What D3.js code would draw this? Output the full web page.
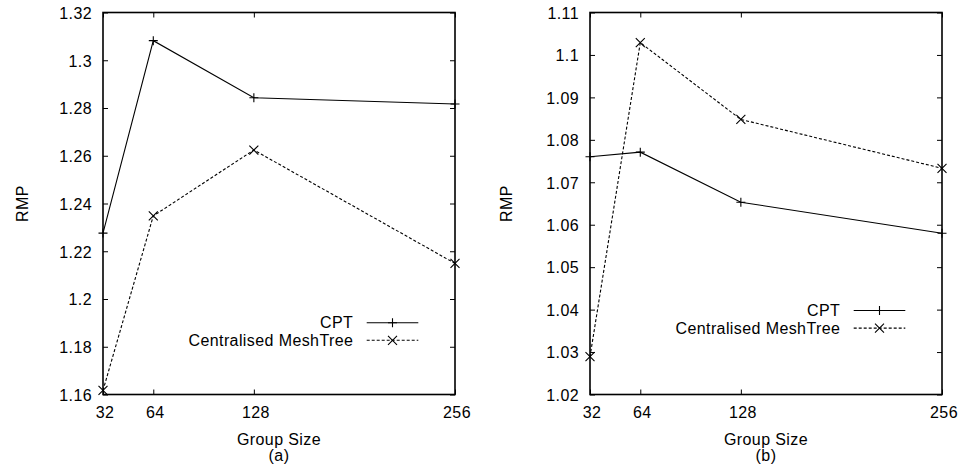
<!DOCTYPE html>
<html>
<head>
<meta charset="utf-8">
<script src="https://cdn.jsdelivr.net/npm/d3@7"></script>
<style>
  html, body { margin: 0; padding: 0; background: #fff; }
  svg { display: block; }
  text { font-family: "Liberation Sans", Arial, Helvetica, sans-serif; font-size: 16px; letter-spacing: 0.4px; fill: #000; }
</style>
</head>
<body>
<svg id="chart" width="960" height="465"></svg>
<script>
// ---- data ----
const groupSizes = [32, 64, 128, 256];
const xTickValues = [32, 64, 128, 256];
const seriesNames = ["CPT", "Centralised MeshTree"];

const cptA = [1.2276, 1.3082, 1.2843, 1.2817];
const meshA = [1.1617, 1.2348, 1.2624, 1.2149];
const yTicksA = [1.16, 1.18, 1.20, 1.22, 1.24, 1.26, 1.28, 1.30, 1.32];
const yLabelsA = ["1.16", "1.18", "1.2", "1.22", "1.24", "1.26", "1.28", "1.3", "1.32"];

const cptB = [1.0760, 1.0771, 1.0653, 1.0580];
const meshB = [1.0289, 1.1029, 1.0848, 1.0733];
const yTicksB = [1.02, 1.03, 1.04, 1.05, 1.06, 1.07, 1.08, 1.09, 1.10, 1.11];
const yLabelsB = ["1.02", "1.03", "1.04", "1.05", "1.06", "1.07", "1.08", "1.09", "1.1", "1.11"];

const xLabel = "Group Size";
const yLabel = "RMP";

// ---- layout ----
const svg = d3.select("#chart");
const plotTop = 12.5, plotBottom = 394.5, plotW = 352;
const tickLen = 5;

const panels = [
  { left: 103, cpt: cptA, mesh: meshA, yTicks: yTicksA, yLabels: yLabelsA, caption: "(a)", yLabX: 28, legY: 322.7 },
  { left: 590, cpt: cptB, mesh: meshB, yTicks: yTicksB, yLabels: yLabelsB, caption: "(b)", yLabX: 512, legY: 310.5 }
];

function plus(g, x, y, r) {
  g.append("path").attr("d", `M${x - r},${y}H${x + r}M${x},${y - r}V${y + r}`)
    .attr("stroke", "#000").attr("stroke-width", 1.1).attr("fill", "none");
}
function cross(g, x, y, r) {
  g.append("path").attr("d", `M${x - r},${y - r}L${x + r},${y + r}M${x - r},${y + r}L${x + r},${y - r}`)
    .attr("stroke", "#000").attr("stroke-width", 1.1).attr("fill", "none");
}

panels.forEach(p => {
  const x = d3.scaleLinear().domain([32, 256]).range([p.left, p.left + plotW]);
  const yExt = d3.extent(p.yTicks);
  const y = d3.scaleLinear().domain(yExt).range([plotBottom, plotTop]);
  const g = svg.append("g");

  // axes with inward ticks
  const yAxisL = d3.axisLeft(y).tickValues(p.yTicks).tickSize(-tickLen).tickPadding(11)
    .tickFormat((d, i) => p.yLabels[i]);
  const gl = g.append("g").attr("transform", `translate(${p.left},0)`).call(yAxisL);
  const gr = g.append("g").attr("transform", `translate(${p.left + plotW},0)`)
    .call(d3.axisRight(y).tickValues(p.yTicks).tickSize(-tickLen).tickFormat(""));
  const xAxisB = d3.axisBottom(x).tickValues(xTickValues).tickSize(-tickLen).tickPadding(12.5)
    .tickFormat(d3.format("d"));
  const gb = g.append("g").attr("transform", `translate(0,${plotBottom})`).call(xAxisB);
  const gt = g.append("g").attr("transform", `translate(0,${plotTop})`)
    .call(d3.axisTop(x).tickValues(xTickValues).tickSize(-tickLen).tickFormat(""));

  [gl, gr, gb, gt].forEach(a => {
    a.select(".domain").remove();
    a.selectAll(".tick line").attr("stroke", "#000").attr("stroke-width", 1);
    a.selectAll("text").attr("font-size", null).attr("font-family", null).attr("fill", "#000");
  });
  gb.selectAll(".tick text").attr("dx", 1.5);
  gl.selectAll(".tick text").attr("dy", "0.36em");

  // frame
  g.append("rect").attr("x", p.left).attr("y", plotTop).attr("width", plotW).attr("height", plotBottom - plotTop)
    .attr("fill", "none").attr("stroke", "#000").attr("stroke-width", 1.6);

  // lines
  const line = d3.line().x((d, i) => x(groupSizes[i])).y(d => y(d));
  g.append("path").datum(p.cpt).attr("d", line).attr("fill", "none")
    .attr("stroke", "#000").attr("stroke-width", 1.1);
  g.append("path").datum(p.mesh).attr("d", line).attr("fill", "none")
    .attr("stroke", "#000").attr("stroke-width", 1.1).attr("stroke-dasharray", "3,2");
  p.cpt.forEach((d, i) => plus(g, x(groupSizes[i]), y(d), 4.5));
  p.mesh.forEach((d, i) => cross(g, x(groupSizes[i]), y(d), 4.5));

  // axis titles
  g.append("text").attr("x", p.left + plotW / 2).attr("y", 444.5).attr("text-anchor", "middle").text(xLabel);
  g.append("text").attr("x", p.left + plotW / 2).attr("y", 461).attr("text-anchor", "middle").text(p.caption);
  g.append("text").attr("transform", `translate(${p.yLabX},${(plotTop + plotBottom) / 2}) rotate(-90)`)
    .attr("text-anchor", "middle").text(yLabel);

  // legend
  const textEnd = p.left + plotW - 101.7;
  const l0 = textEnd + 13.4, l1 = p.left + plotW - 36.7, lm = (l0 + l1) / 2;
  seriesNames.forEach((name, i) => {
    const ly = p.legY + i * 17.6;
    g.append("text").attr("x", textEnd).attr("y", ly).attr("dy", "0.36em")
      .attr("text-anchor", "end").text(name);
    const lp = g.append("path").attr("d", `M${l0},${ly}H${l1}`).attr("fill", "none")
      .attr("stroke", "#000").attr("stroke-width", 1.1);
    if (i === 1) { lp.attr("stroke-dasharray", "3,2"); cross(g, lm, ly, 4.5); }
    else plus(g, lm, ly, 4.5);
  });
});
</script>
</body>
</html>
